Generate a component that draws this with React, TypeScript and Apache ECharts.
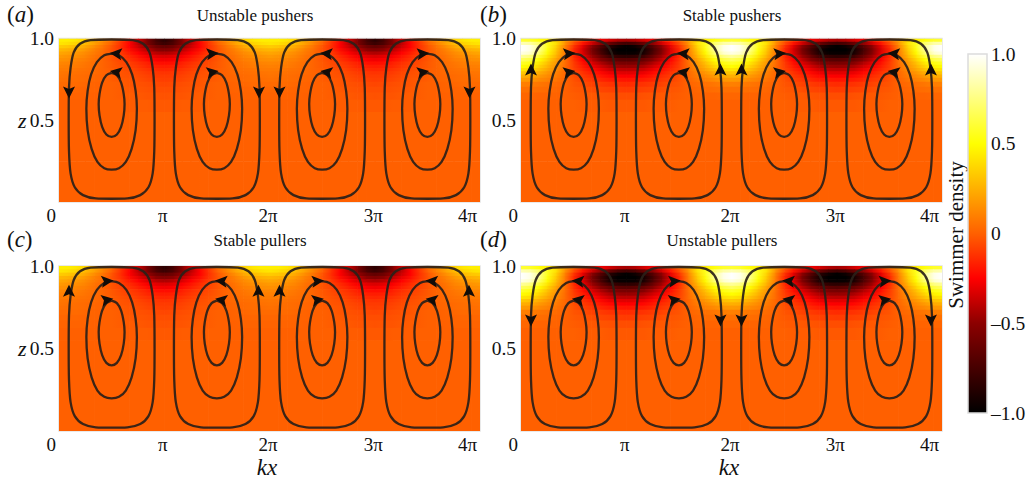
import React, { useEffect, useRef } from "react";
import * as echarts from "echarts";

const FONT = "'Liberation Serif', 'Times New Roman', serif";
const INK = "#111";
const LINE = "#2a2018";

// z level of every row in the density tables
const rowZ = [0.99, 0.97, 0.95, 0.93, 0.91, 0.89, 0.87, 0.85, 0.83, 0.81, 0.79, 0.77, 0.75, 0.72, 0.69, 0.65, 0.6, 0.5, 0];
// kx / pi of every column, over the half period that repeats
const colX = [0, 0.083, 0.167, 0.25, 0.333, 0.417, 0.5, 0.583, 0.667, 0.75, 0.833, 0.917, 1];

// density (a) and (c)
const shallowDensity = [
  [0.45, 0.45, 0.42, 0.35, 0.25, 0.15, 0.05, -0.08, -0.2, -0.35, -0.55, -0.75, -0.85],
  [0.42, 0.4, 0.36, 0.28, 0.2, 0.1, 0, -0.12, -0.25, -0.4, -0.55, -0.72, -0.8],
  [0.34, 0.32, 0.28, 0.22, 0.14, 0.06, -0.03, -0.13, -0.25, -0.36, -0.48, -0.6, -0.65],
  [0.27, 0.25, 0.22, 0.17, 0.1, 0.04, -0.04, -0.12, -0.22, -0.3, -0.4, -0.5, -0.54],
  [0.22, 0.2, 0.17, 0.13, 0.08, 0.03, -0.03, -0.1, -0.18, -0.25, -0.33, -0.4, -0.43],
  [0.18, 0.16, 0.14, 0.11, 0.06, 0.02, -0.03, -0.08, -0.14, -0.2, -0.26, -0.31, -0.33],
  [0.15, 0.14, 0.11, 0.09, 0.05, 0.01, -0.03, -0.07, -0.12, -0.17, -0.22, -0.26, -0.28],
  [0.12, 0.11, 0.09, 0.07, 0.04, 0.01, -0.02, -0.06, -0.09, -0.13, -0.17, -0.21, -0.22],
  [0.1, 0.09, 0.08, 0.06, 0.04, 0.01, -0.02, -0.05, -0.08, -0.11, -0.15, -0.17, -0.18],
  [0.08, 0.08, 0.06, 0.05, 0.03, 0.01, -0.01, -0.04, -0.06, -0.09, -0.12, -0.14, -0.15],
  [0.07, 0.06, 0.05, 0.04, 0.03, 0.01, -0.01, -0.03, -0.05, -0.07, -0.1, -0.11, -0.12],
  [0.06, 0.05, 0.04, 0.03, 0.02, 0.01, -0.01, -0.03, -0.04, -0.06, -0.08, -0.1, -0.1],
  [0.05, 0.04, 0.04, 0.03, 0.02, 0.01, -0.01, -0.02, -0.03, -0.05, -0.07, -0.08, -0.09],
  [0.03, 0.03, 0.03, 0.02, 0.01, 0, 0, -0.01, -0.03, -0.04, -0.05, -0.06, -0.07],
  [0.02, 0.02, 0.02, 0.01, 0.01, 0, 0, -0.01, -0.02, -0.03, -0.04, -0.05, -0.05],
  [0.01, 0.01, 0.01, 0.01, 0, 0, 0, -0.01, -0.01, -0.02, -0.03, -0.03, -0.04],
  [0, 0, 0, 0, 0, 0, 0, 0, -0.01, -0.01, -0.01, -0.02, -0.02],
  [0, 0, 0, 0, 0, 0, 0, 0, 0, 0, 0, 0, 0],
  [0, 0, 0, 0, 0, 0, 0, 0, 0, 0, 0, 0, 0],
];

// density (b) and (d)
const deepDensity = [
  [0.6, 0.58, 0.52, 0.45, 0.35, 0.2, 0.03, -0.08, -0.18, -0.28, -0.35, -0.42, -0.45],
  [0.85, 0.82, 0.7, 0.55, 0.4, 0.15, -0.05, -0.2, -0.35, -0.5, -0.62, -0.73, -0.78],
  [1, 0.95, 0.78, 0.55, 0.35, 0.1, -0.12, -0.3, -0.5, -0.7, -0.85, -0.95, -1],
  [1, 0.95, 0.78, 0.52, 0.32, 0.08, -0.15, -0.33, -0.55, -0.75, -0.92, -1, -1],
  [0.95, 0.9, 0.72, 0.48, 0.29, 0.07, -0.15, -0.32, -0.53, -0.72, -0.9, -0.97, -0.98],
  [0.8, 0.75, 0.6, 0.42, 0.25, 0.06, -0.14, -0.28, -0.46, -0.62, -0.77, -0.83, -0.85],
  [0.68, 0.63, 0.5, 0.36, 0.2, 0.05, -0.12, -0.25, -0.39, -0.52, -0.63, -0.68, -0.7],
  [0.58, 0.53, 0.43, 0.3, 0.17, 0.04, -0.1, -0.21, -0.32, -0.42, -0.52, -0.56, -0.58],
  [0.5, 0.46, 0.37, 0.26, 0.15, 0.03, -0.09, -0.18, -0.27, -0.35, -0.43, -0.47, -0.48],
  [0.42, 0.39, 0.31, 0.22, 0.13, 0.03, -0.08, -0.15, -0.22, -0.29, -0.36, -0.39, -0.4],
  [0.33, 0.3, 0.24, 0.17, 0.1, 0.02, -0.06, -0.12, -0.18, -0.23, -0.29, -0.31, -0.32],
  [0.25, 0.23, 0.18, 0.13, 0.08, 0.02, -0.05, -0.1, -0.14, -0.19, -0.23, -0.25, -0.26],
  [0.18, 0.17, 0.13, 0.1, 0.06, 0.01, -0.04, -0.08, -0.11, -0.15, -0.18, -0.19, -0.2],
  [0.1, 0.09, 0.07, 0.05, 0.03, 0.01, -0.03, -0.05, -0.08, -0.1, -0.12, -0.13, -0.14],
  [0.05, 0.05, 0.04, 0.03, 0.02, 0, -0.02, -0.03, -0.05, -0.07, -0.08, -0.09, -0.1],
  [0.02, 0.02, 0.01, 0.01, 0.01, 0, -0.01, -0.02, -0.02, -0.03, -0.04, -0.05, -0.05],
  [0, 0, 0, 0, 0, 0, 0, -0.01, -0.01, -0.01, -0.02, -0.02, -0.02],
  [0, 0, 0, 0, 0, 0, 0, 0, 0, 0, 0, 0, 0],
  [0, 0, 0, 0, 0, 0, 0, 0, 0, 0, 0, 0, 0],
];

// streamlines: half of each loop as [distance from cell centre in pi, z], top to bottom
const outerLoop = [[0, 0.994], [0.2, 0.99], [0.3, 0.968], [0.36, 0.915], [0.39, 0.82], [0.405, 0.7], [0.408, 0.5], [0.405, 0.31], [0.39, 0.175], [0.35, 0.09], [0.272, 0.042], [0.15, 0.022], [0, 0.02]];
const middleLoop = [[0, 0.908], [0.07, 0.897], [0.14, 0.855], [0.195, 0.78], [0.228, 0.68], [0.24, 0.57], [0.228, 0.44], [0.19, 0.325], [0.135, 0.245], [0.07, 0.207], [0, 0.198]];
const innerLoop = [[0, 0.79], [0.05, 0.775], [0.09, 0.73], [0.115, 0.66], [0.123, 0.6], [0.115, 0.53], [0.09, 0.46], [0.05, 0.413], [0, 0.398]];
const cellCentres = [0.5, 1.5, 2.5, 3.5];

// arrowheads: [kx / pi, z, rotation]
const arrowsA = [[0.095, 0.67, 180], [1.9, 0.67, 180], [2.095, 0.67, 180], [3.9, 0.67, 180], [0.54, 0.908, 84], [0.54, 0.795, 80], [1.46, 0.908, -84], [1.46, 0.795, -80], [2.54, 0.908, 84], [2.54, 0.795, 80], [3.46, 0.908, -84], [3.46, 0.795, -80]];
const arrowsB = [[0.095, 0.81, 0], [1.895, 0.81, 0], [2.095, 0.81, 0], [3.895, 0.81, 0], [0.46, 0.908, -84], [0.46, 0.795, -80], [1.54, 0.908, 84], [1.54, 0.795, 80], [2.46, 0.908, -84], [2.46, 0.795, -80], [3.54, 0.908, 84], [3.54, 0.795, 80]];
const arrowsC = [[0.095, 0.85, 0], [1.895, 0.85, 0], [2.095, 0.85, 0], [3.895, 0.85, 0], [0.46, 0.908, -84], [0.46, 0.795, -80], [1.54, 0.908, 84], [1.54, 0.795, 80], [2.46, 0.908, -84], [2.46, 0.795, -80], [3.54, 0.908, 84], [3.54, 0.795, 80]];
const arrowsD = [[0.095, 0.67, 180], [1.895, 0.67, 180], [2.095, 0.67, 180], [3.895, 0.67, 180], [0.54, 0.908, 84], [0.54, 0.795, 80], [1.46, 0.908, -84], [1.46, 0.795, -80], [2.54, 0.908, 84], [2.54, 0.795, 80], [3.46, 0.908, -84], [3.46, 0.795, -80]];

const xTickLabels = ["0", "π", "2π", "3π", "4π"];
const colourStops: [number, string][] = [
  [-1, "#000000"], [-0.5, "#8c0000"], [-0.25, "#ff0000"], [0, "#ff6000"],
  [0.25, "#ffb000"], [0.5, "#ffff00"], [1, "#ffffff"],
];

const hex = (c: string) => [1, 3, 5].map((i) => parseInt(c.slice(i, i + 2), 16));
function colourOf(v: number) {
  for (let i = 1; i < colourStops.length; i++) {
    const [v1, c1] = colourStops[i];
    const [v0, c0] = colourStops[i - 1];
    if (v <= v1) {
      const t = Math.max(0, (v - v0) / (v1 - v0));
      const a = hex(c0), b = hex(c1);
      return `rgb(${a.map((p, k) => Math.round(p + (b[k] - p) * t)).join(",")})`;
    }
  }
  return colourStops[colourStops.length - 1][1];
}

function cellsFrom(table: number[][]) {
  const cells: number[][] = [];
  table.forEach((row, r) => {
    const zHi = r === 0 ? 1 : (rowZ[r - 1] + rowZ[r]) / 2;
    const zLo = r === table.length - 1 ? 0 : (rowZ[r] + rowZ[r + 1]) / 2;
    for (let period = 0; period < 4; period++) {
      for (let c = 0; c < colX.length - 1; c++) {
        const x0 = period + (period % 2 ? 1 - colX[c + 1] : colX[c]);
        const x1 = period + (period % 2 ? 1 - colX[c] : colX[c + 1]);
        const v0 = period % 2 ? row[c + 1] : row[c];
        const v1 = period % 2 ? row[c] : row[c + 1];
        cells.push([x0, x1, zLo, zHi, v0, v1]);
      }
    }
  });
  return cells;
}

const renderCell = (_: any, api: any) => {
  const a = api.coord([api.value(0), api.value(3)]);
  const b = api.coord([api.value(1), api.value(2)]);
  return {
    type: "rect",
    shape: { x: a[0], y: a[1], width: b[0] - a[0] + 0.7, height: b[1] - a[1] + 0.7 },
    style: {
      fill: new echarts.graphic.LinearGradient(0, 0, 1, 0, [
        { offset: 0, color: colourOf(api.value(4)) },
        { offset: 1, color: colourOf(api.value(5)) },
      ]),
    },
  };
};

const panels = [
  { title: "Unstable pushers", tag: "a", table: shallowDensity, arrows: arrowsA, left: 59, top: 38.5, height: 163.5, width: 421, zLabel: true, tagX: 7, tagY: 15, titleX: 255, titleY: 15 },
  { title: "Stable pushers", tag: "b", table: deepDensity, arrows: arrowsB, left: 521, top: 38.5, height: 163.5, width: 421, zLabel: false, tagX: 480, tagY: 15, titleX: 732, titleY: 15 },
  { title: "Stable pullers", tag: "c", table: shallowDensity, arrows: arrowsC, left: 59, top: 266, height: 165, width: 421, zLabel: true, tagX: 7, tagY: 240, titleX: 260, titleY: 240 },
  { title: "Unstable pullers", tag: "d", table: deepDensity, arrows: arrowsD, left: 521, top: 266, height: 165, width: 421, zLabel: false, tagX: 480, tagY: 240, titleX: 722, titleY: 240 },
];

function loopSeries(half: number[][], centre: number, axis: number) {
  const right = half.map(([d, z]) => [centre + d, z]);
  const left = half.slice(0, -1).reverse().map(([d, z]) => [centre - d, z]);
  return {
    type: "line",
    xAxisIndex: axis,
    yAxisIndex: axis,
    data: [...right, ...left],
    symbol: "none",
    smooth: 0.3,
    clip: false,
    z: 3,
    silent: true,
    lineStyle: { color: LINE, width: 2.3, opacity: 0.92 },
  };
}

const arrowPath = "path://M5,0 L10,12 L5,9.5 L0,12 Z";

function buildOption() {
  const grid: any[] = [];
  const xAxis: any[] = [];
  const yAxis: any[] = [];
  const series: any[] = [];
  const graphic: any[] = [];

  panels.forEach((p, i) => {
    grid.push({ left: p.left, top: p.top, width: p.width, height: p.height, show: true, borderColor: "#e2e2e2", borderWidth: 1.5, backgroundColor: "transparent" });
    xAxis.push({
      type: "value", gridIndex: i, min: 0, max: 4, interval: 1,
      axisLine: { show: false }, axisTick: { show: false }, splitLine: { show: false },
      axisLabel: {
        margin: 4, color: INK, fontFamily: FONT, fontSize: 19,
        alignMinLabel: "right", alignMaxLabel: "right",
        padding: [0, 3, 0, 0],
        formatter: (v: number) => xTickLabels[v],
      },
    });
    yAxis.push({
      type: "value", gridIndex: i, min: 0, max: 1, interval: 0.5,
      axisLine: { show: false }, axisTick: { show: false }, splitLine: { show: false },
      axisLabel: {
        margin: 5, color: INK, fontFamily: FONT, fontSize: 19.5,
        rich: {
          i: { fontStyle: "italic", fontFamily: FONT, fontSize: 22, color: INK, padding: [0, 3, 0, 0] },
          n: { fontFamily: FONT, fontSize: 19.5, color: INK },
        },
        formatter: (v: number) => (v === 0 ? "" : v === 1 ? "1.0" : p.zLabel ? "{i|z}{n|0.5}" : "0.5"),
      },
    });
    series.push({
      type: "custom", xAxisIndex: i, yAxisIndex: i, coordinateSystem: "cartesian2d",
      data: cellsFrom(p.table), renderItem: renderCell, clip: true, silent: true, z: 1,
      encode: { x: [0, 1], y: [2, 3] },
    });
    [outerLoop, middleLoop, innerLoop].forEach((loop) =>
      cellCentres.forEach((c) => series.push(loopSeries(loop, c, i))));
    series.push({
      type: "scatter", xAxisIndex: i, yAxisIndex: i, silent: true, z: 4, clip: false,
      symbol: arrowPath, symbolSize: [12, 12], symbolKeepAspect: false,
      itemStyle: { color: "#120c08", opacity: 1 },
      data: p.arrows.map(([x, z, r]) => ({ value: [x, z], symbolRotate: r })),
    });
    graphic.push({
      type: "text", left: p.tagX, top: p.tagY - 12,
      style: {
        text: `({i|${p.tag}})`, font: `23px ${FONT}`, fill: INK,
        rich: { i: { fontStyle: "italic", fontSize: 23, fontFamily: FONT, fill: INK } },
      },
    });
    graphic.push({
      type: "text", x: p.titleX, y: p.titleY,
      style: { text: p.title, font: `17px ${FONT}`, fill: INK, align: "center", verticalAlign: "middle" },
    });
  });

  [267, 729].forEach((x) =>
    graphic.push({
      type: "text", x, y: 467.5,
      style: { text: "kx", font: `italic 23px ${FONT}`, fill: INK, align: "center", verticalAlign: "middle" },
    }));
  graphic.push({
    type: "text", x: 956, y: 235, rotation: Math.PI / 2,
    style: { text: "Swimmer density", font: `21px ${FONT}`, fill: INK, align: "center", verticalAlign: "middle" },
  });

  // colour bar
  const k = panels.length;
  grid.push({ left: 968, top: 54, width: 19, height: 359 });
  xAxis.push({ type: "value", gridIndex: k, min: 0, max: 1, show: false });
  yAxis.push({
    type: "value", gridIndex: k, min: -1, max: 1, interval: 0.5, position: "right",
    axisLine: { show: false }, axisTick: { show: false }, splitLine: { show: false },
    axisLabel: {
      margin: 4, color: INK, fontFamily: FONT, fontSize: 19.5,
      formatter: (v: number) => (v === 0 ? "0" : (v < 0 ? "–" : "") + Math.abs(v).toFixed(1)),
    },
  });
  series.push({
    type: "custom", xAxisIndex: k, yAxisIndex: k, coordinateSystem: "cartesian2d", silent: true,
    data: [[0, 1, -1, 1]], encode: { x: [0, 1], y: [2, 3] },
    renderItem: (_: any, api: any) => {
      const a = api.coord([api.value(0), api.value(3)]);
      const b = api.coord([api.value(1), api.value(2)]);
      return {
        type: "rect",
        shape: { x: a[0], y: a[1], width: b[0] - a[0], height: b[1] - a[1] },
        style: {
          stroke: "#dcdcdc", lineWidth: 1.5,
          fill: new echarts.graphic.LinearGradient(0, 1, 0, 0,
            colourStops.map(([v, color]) => ({ offset: (v + 1) / 2, color }))),
        },
      };
    },
  });

  return { animation: false, backgroundColor: "#fff", tooltip: { show: false }, grid, xAxis, yAxis, series, graphic };
}

export default function App() {
  const ref = useRef<HTMLDivElement>(null);
  useEffect(() => {
    document.body.style.margin = "0";
    const chart = echarts.init(ref.current!, null, { renderer: "svg" });
    chart.setOption(buildOption() as any);
    return () => chart.dispose();
  }, []);
  return <div ref={ref} style={{ width: 1034, height: 479 }} />;
}
